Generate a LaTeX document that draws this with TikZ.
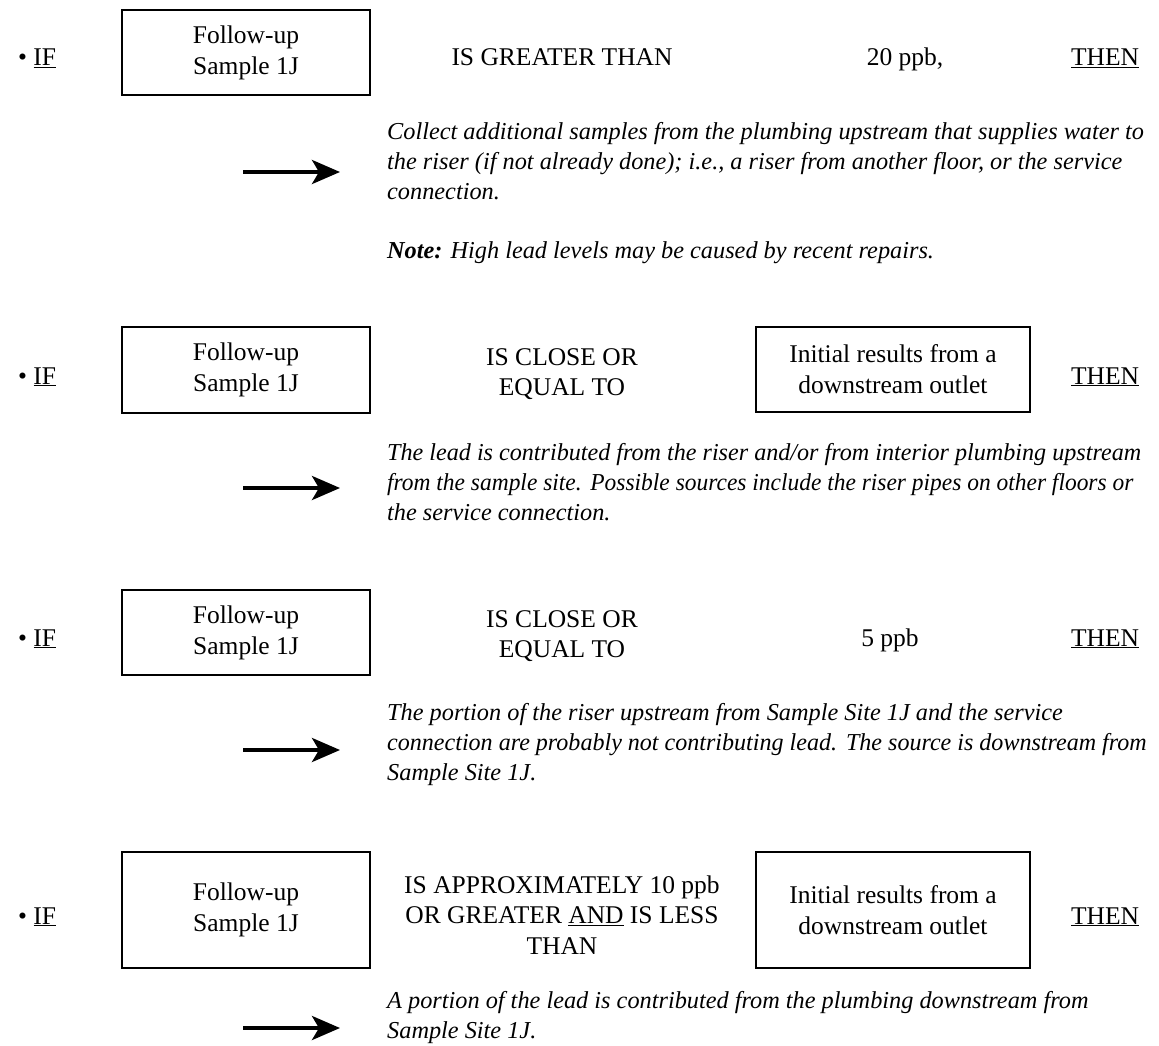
\documentclass[tikz,border=0pt]{standalone}
\usepackage{fontspec}
\setmainfont{Liberation Serif}
\usetikzlibrary{arrows.meta}
\tikzset{
  box/.style={draw, line width=2.3pt, align=center, inner sep=0pt, font=\fontsize{25.5}{31}\selectfont},
  wbox/.style={box, minimum width=248pt},
  rbox/.style={box, minimum width=274pt},
  cond/.style={align=center, inner sep=0pt, font=\fontsize{25.5}{30.5}\selectfont},
  word/.style={anchor=base, inner sep=0pt, font=\fontsize{25.5}{31}\selectfont},
  para/.style={anchor=base west, align=left, inner sep=0pt, font=\fontsize{24.3}{29.8}\selectfont\itshape},
  arr/.style={line width=4pt, -{Stealth[length=28pt,width=24pt,inset=7pt]}}
}
\begin{document}
\begin{tikzpicture}[x=1pt,y=-1pt]
\useasboundingbox (0,0) rectangle (1159,1046);
% Row 1
\node[word, anchor=base west] (if1) at (18,66) {\textbullet\ \underline{IF}};
\node[wbox, minimum height=85pt] (s1) at (246,52.5) {Follow-up\\Sample 1J};
\node[word] (c1) at (562,66) {IS GREATER THAN};
\node[word] (v1) at (905,66) {20 ppb,};
\node[word] (t1) at (1105,66) {\underline{THEN}};
\coordinate (a1s) at (243,172);
\coordinate (a1e) at (340,172);
\draw[arr] (a1s) -- (a1e);
\node[para] (p1) at (387,199) {Collect additional samples from the plumbing upstream that supplies water to\\the riser (if not already done); i.e., a riser from another floor, or the service\\connection.};
\node[para] (n1) at (387,258) {\textbf{Note:} High lead levels may be caused by recent repairs.};
% Row 2
\node[word, anchor=base west] (if2) at (18,384) {\textbullet\ \underline{IF}};
\node[wbox, minimum height=86pt] (s2) at (246,370) {Follow-up\\Sample 1J};
\node[cond] (c2) at (562,374) {IS CLOSE OR\\EQUAL TO};
\node[rbox, minimum height=85pt] (r2) at (893,369.5) {Initial results from a\\downstream outlet};
\node[word] (t2) at (1105,384) {\underline{THEN}};
\coordinate (a2s) at (243,488);
\coordinate (a2e) at (340,488);
\draw[arr] (a2s) -- (a2e);
\node[para] (p2) at (387,520) {\scalebox{0.993}[1]{The lead is contributed from the riser and/or from interior plumbing upstream}\\\scalebox{0.965}[1]{from the sample site.\hspace{9pt}Possible sources include the riser pipes on other floors or}\\the service connection.};
% Row 3
\node[word, anchor=base west] (if3) at (18,646) {\textbullet\ \underline{IF}};
\node[wbox, minimum height=85pt] (s3) at (246,632.5) {Follow-up\\Sample 1J};
\node[cond] (c3) at (562,636) {IS CLOSE OR\\EQUAL TO};
\node[word] (v3) at (890,646) {5 ppb};
\node[word] (t3) at (1105,646) {\underline{THEN}};
\coordinate (a3s) at (243,750);
\coordinate (a3e) at (340,750);
\draw[arr] (a3s) -- (a3e);
\node[para] (p3) at (387,780) {The portion of the riser upstream from Sample Site 1J and the service\\\scalebox{0.99}[1]{connection are probably not contributing lead.\hspace{9pt}The source is downstream from}\\Sample Site 1J.};
% Row 4
\node[word, anchor=base west] (if4) at (18,924) {\textbullet\ \underline{IF}};
\node[wbox, minimum height=116pt] (s4) at (246,910) {Follow-up\\Sample 1J};
\node[cond] (c4) at (562,915) {IS APPROXIMATELY 10 ppb\\OR GREATER \underline{AND} IS LESS\\THAN};
\node[rbox, minimum height=116pt] (r4) at (893,910) {Initial results from a\\downstream outlet};
\node[word] (t4) at (1105,924) {\underline{THEN}};
\coordinate (a4s) at (243,1028);
\coordinate (a4e) at (340,1028);
\draw[arr] (a4s) -- (a4e);
\node[para] (p4) at (387,1038) {A portion of the lead is contributed from the plumbing downstream from\\Sample Site 1J.};
\end{tikzpicture}
\end{document}
